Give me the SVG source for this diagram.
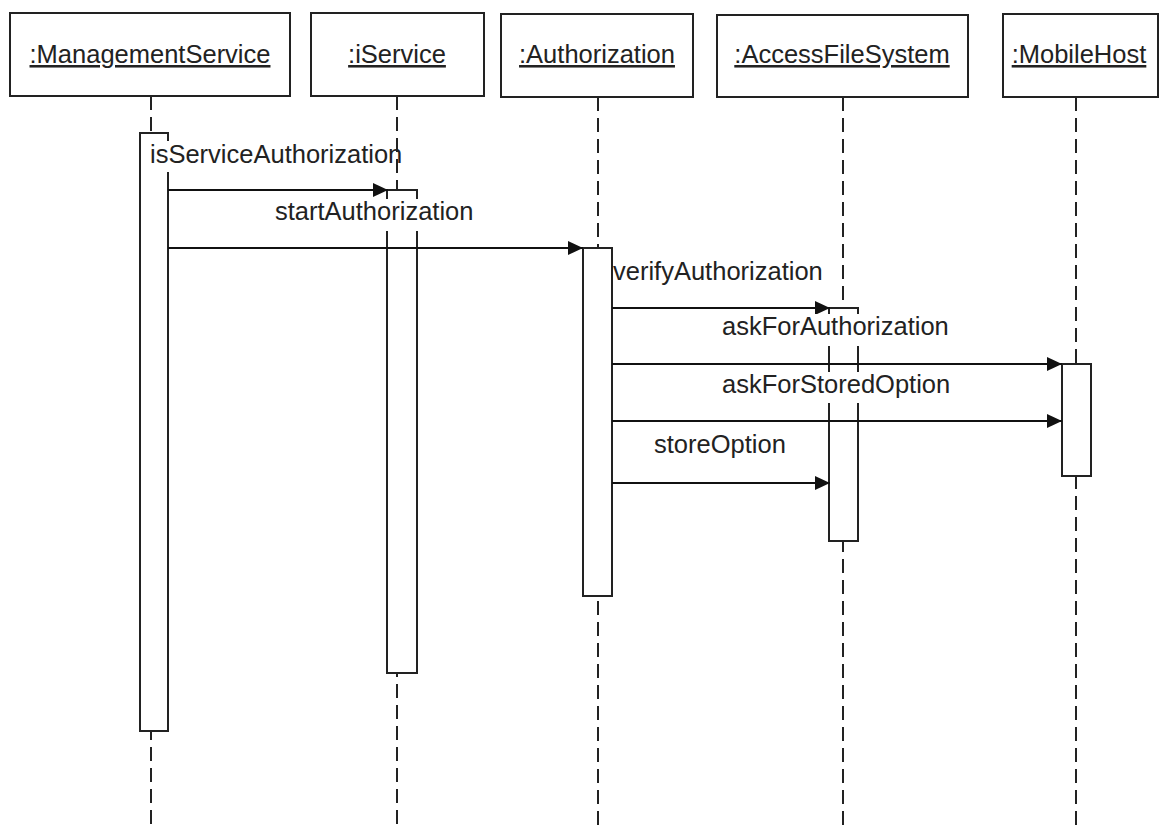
<svg xmlns="http://www.w3.org/2000/svg" width="1166" height="836" viewBox="0 0 1166 836">
<style>
.box{fill:#fff;stroke:#222;stroke-width:2}
.bar{fill:#fff;stroke:#222;stroke-width:2}
.life{stroke:#222;stroke-width:2;stroke-dasharray:14 7;fill:none}
.msg{stroke:#111;stroke-width:2;fill:none;marker-end:url(#ah)}
.name{font-family:"Liberation Sans",Arial,sans-serif;font-size:25.5px;fill:#222;text-anchor:middle;text-decoration:underline}
.lbl{font-family:"Liberation Sans",Arial,sans-serif;font-size:25.5px;fill:#222}
.bg{fill:#fff;stroke:none}
</style>
<defs>
<marker id="ah" markerUnits="userSpaceOnUse" markerWidth="16" markerHeight="14" refX="15" refY="7" orient="auto">
<path d="M0,0 L15,7 L0,14 z" fill="#111"/>
</marker>
</defs>
<rect width="1166" height="836" fill="#fff"/>
<g id="lifelines">
<line class="life" x1="151" y1="96" x2="151" y2="828"/>
<line class="life" x1="397" y1="96" x2="397" y2="828"/>
<line class="life" x1="598" y1="97" x2="598" y2="828"/>
<line class="life" x1="843" y1="97" x2="843" y2="828"/>
<line class="life" x1="1076" y1="97" x2="1076" y2="828"/>
</g>
<g id="ManagementService">
<rect class="box" x="10" y="13" width="280" height="83"/>
<text class="name" x="150" y="63">:ManagementService</text>
<rect class="bar" x="140" y="133" width="28" height="598"/>
</g>
<g id="iService">
<rect class="box" x="311" y="13" width="173" height="83"/>
<text class="name" x="397" y="63">:iService</text>
<rect class="bar" x="387" y="190" width="30" height="483"/>
</g>
<g id="Authorization">
<rect class="box" x="501" y="14" width="192" height="83"/>
<text class="name" x="597" y="63">:Authorization</text>
<rect class="bar" x="583" y="248" width="29" height="348"/>
</g>
<g id="AccessFileSystem">
<rect class="box" x="717" y="15" width="251" height="82"/>
<text class="name" x="842" y="63">:AccessFileSystem</text>
<rect class="bar" x="829" y="308" width="29" height="233"/>
</g>
<g id="MobileHost">
<rect class="box" x="1003" y="14" width="155" height="83"/>
<text class="name" x="1079" y="63">:MobileHost</text>
<rect class="bar" x="1062" y="364" width="29" height="112"/>
</g>
<g id="connectors">
<line class="msg" x1="168" y1="190" x2="388" y2="190"/>
<line class="msg" x1="168" y1="248" x2="583" y2="248"/>
<line class="msg" x1="612" y1="308" x2="830" y2="308"/>
<line class="msg" x1="612" y1="364" x2="1062" y2="364"/>
<line class="msg" x1="612" y1="421" x2="1062" y2="421"/>
<line class="msg" x1="612" y1="483" x2="830" y2="483"/>
</g>
<g id="labels">
<rect class="bg" x="148" y="141" width="240" height="31"/>
<text class="lbl" x="150" y="163">isServiceAuthorization</text>
<rect class="bg" x="272" y="199" width="204" height="32"/>
<text class="lbl" x="275" y="220">startAuthorization</text>
<text class="lbl" x="613" y="280">verifyAuthorization</text>
<rect class="bg" x="720" y="314" width="232" height="32"/>
<text class="lbl" x="722" y="335">askForAuthorization</text>
<rect class="bg" x="720" y="372" width="232" height="31"/>
<text class="lbl" x="722" y="393">askForStoredOption</text>
<text class="lbl" x="654" y="453">storeOption</text>
</g>
</svg>
